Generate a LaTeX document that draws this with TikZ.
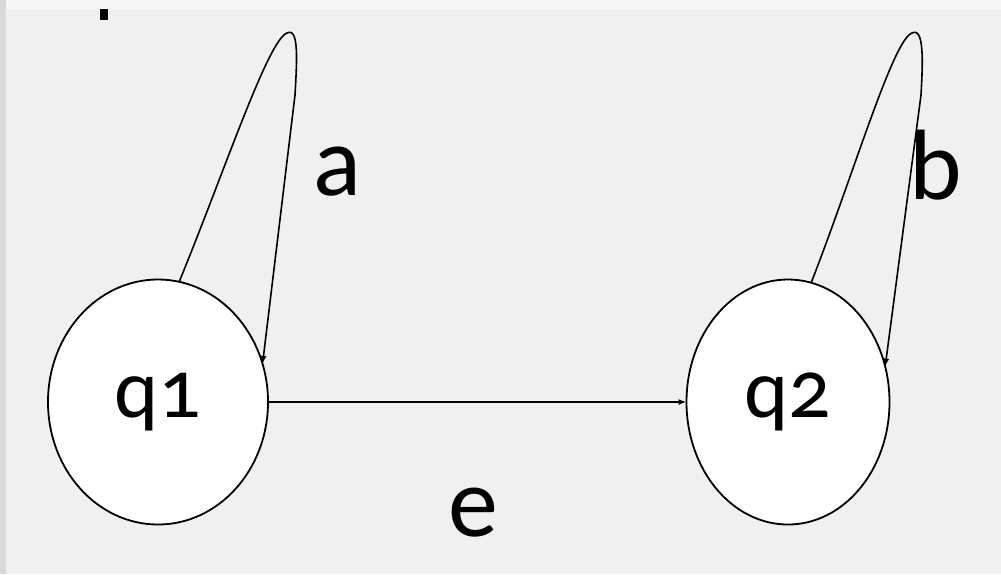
\documentclass[tikz,border=0pt]{standalone}
\usepackage{fontspec}
\setmainfont{Carlito}
\newfontfamily\statefont[Numbers=OldStyle]{Carlito}
\usetikzlibrary{shapes.geometric,arrows.meta}
\definecolor{bgmain}{HTML}{F0F0F0}
\definecolor{bgtop}{HTML}{F7F7F7}
\definecolor{bgleft}{HTML}{D9D9D9}
\tikzset{
  state/.style={ellipse, draw=black, line width=1.8pt, fill=white, inner sep=0pt, outer sep=0pt,
    font=\statefont\fontsize{84}{90}\selectfont},
  edge/.style={draw=black, line width=1.6pt, -{Latex[length=8pt,width=6pt]}},
  lbl/.style={font=\fontsize{100}{110}\selectfont, inner sep=0pt}
}
\begin{document}
\begin{tikzpicture}[x=1pt,y=-1pt]
\useasboundingbox (0,0) rectangle (1001,574);
\fill[bgmain] (0,0) rectangle (1001,574);
\fill[bgtop] (0,0) rectangle (1001,9);
\fill[bgleft] (0,0) rectangle (6,574);
\fill[black] (100,9) rectangle (108,20);
\node[state, minimum width=220pt, minimum height=245pt] (q1) at (158,402) {q1};
\node[state, minimum width=203pt, minimum height=245pt] (q2) at (788,402) {q2};
\draw[edge] (q1.east) -- (q2.west);
\draw[edge] (q1.80.5) .. controls (225,170) and (268,40) .. (287,33)
  .. controls (299,27) and (297,60) .. (295,95) -- (q1.20);
\draw[edge] (q2.79.6) .. controls (855,170) and (893,40) .. (912,33)
  .. controls (924,27) and (923,60) .. (921,95) -- (q2.20);
\node[lbl] (la) at (337,172) {a};
\node[lbl] (lb) at (936,165) {b};
\node[lbl] (le) at (473,513) {e};
\end{tikzpicture}
\end{document}
